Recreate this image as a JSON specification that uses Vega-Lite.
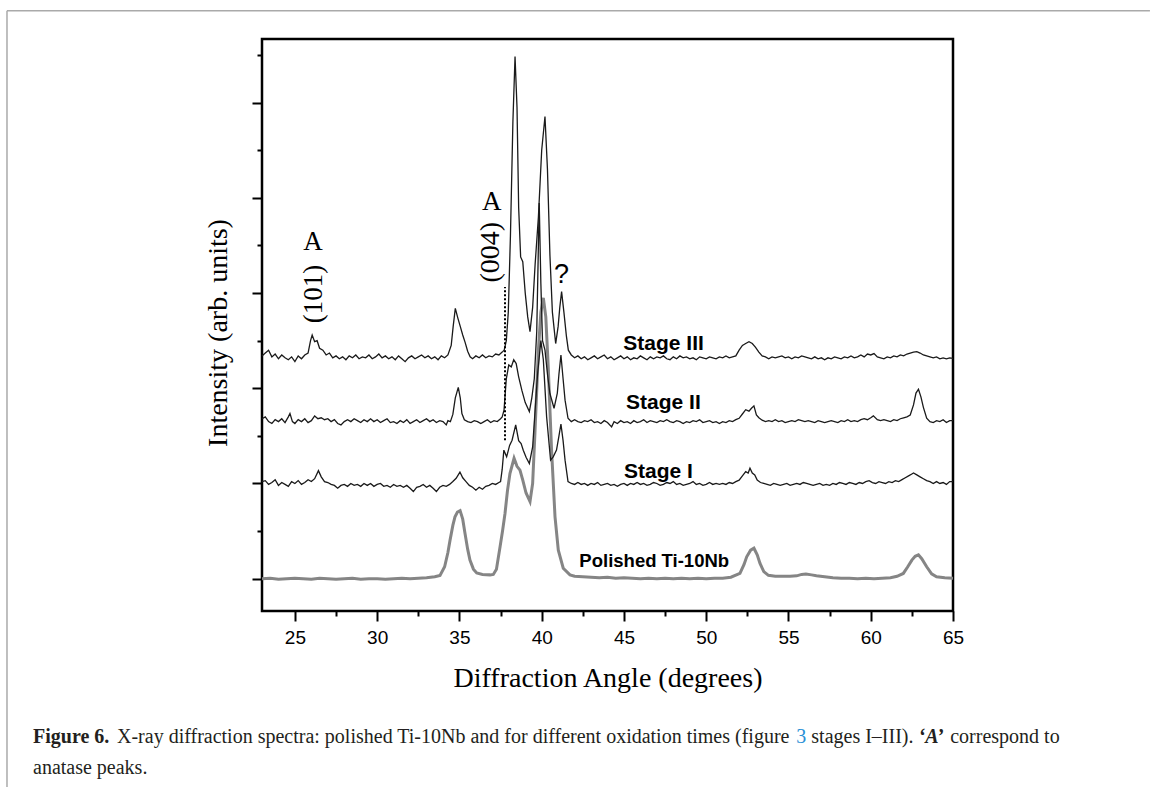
{
"$schema":"https://vega.github.io/schema/vega-lite/v6.json",
"width":691,"height":572,
"autosize":{"type":"none"},
"padding":{"left":262,"top":39,"right":197,"bottom":176},
"background":"#ffffff",
"config":{"view":{"stroke":"#000000","strokeWidth":2.5},
"axis":{"labelFont":"Liberation Sans","labelFontSize":19,"labelColor":"#000","tickColor":"#000","tickWidth":2,"domain":false,"grid":false,"titleFont":"Liberation Serif","titleFontSize":28,"titleFontWeight":"normal","titleColor":"#000"}},
"data":{"values":[{}]},
"datasets":{
"pol":[{"x":23.0,"y":0.0},{"x":23.5,"y":0.01},{"x":24.0,"y":-0.01},{"x":24.5,"y":0.0},{"x":25.0,"y":0.01},{"x":25.5,"y":0.0},{"x":26.0,"y":-0.01},{"x":26.5,"y":0.01},{"x":27.0,"y":0.0},{"x":27.5,"y":-0.01},{"x":28.0,"y":0.0},{"x":28.5,"y":0.01},{"x":29.0,"y":-0.01},{"x":29.5,"y":0.0},{"x":30.0,"y":0.0},{"x":30.5,"y":-0.01},{"x":31.0,"y":0.0},{"x":31.5,"y":0.01},{"x":32.0,"y":0.0},{"x":32.5,"y":0.01},{"x":33.0,"y":0.02},{"x":33.5,"y":0.04},{"x":33.82,"y":0.07},{"x":34.1,"y":0.25},{"x":34.3,"y":0.55},{"x":34.43,"y":0.81},{"x":34.6,"y":1.12},{"x":34.73,"y":1.3},{"x":34.88,"y":1.4},{"x":35.04,"y":1.43},{"x":35.2,"y":1.25},{"x":35.34,"y":0.95},{"x":35.5,"y":0.62},{"x":35.64,"y":0.39},{"x":35.85,"y":0.2},{"x":36.05,"y":0.12},{"x":36.4,"y":0.09},{"x":36.86,"y":0.08},{"x":37.06,"y":0.09},{"x":37.25,"y":0.2},{"x":37.47,"y":0.67},{"x":37.62,"y":1.0},{"x":37.77,"y":1.37},{"x":37.92,"y":1.85},{"x":38.07,"y":2.21},{"x":38.32,"y":2.53},{"x":38.5,"y":2.36},{"x":38.68,"y":2.28},{"x":38.85,"y":2.07},{"x":39.05,"y":1.8},{"x":39.29,"y":1.62},{"x":39.45,"y":2.0},{"x":39.59,"y":3.06},{"x":39.8,"y":4.8},{"x":39.95,"y":5.6},{"x":40.1,"y":5.9},{"x":40.25,"y":5.5},{"x":40.4,"y":4.43},{"x":40.6,"y":2.7},{"x":40.81,"y":1.3},{"x":41.01,"y":0.6},{"x":41.31,"y":0.22},{"x":41.72,"y":0.08},{"x":42.0,"y":0.05},{"x":42.5,"y":0.04},{"x":43.0,"y":0.03},{"x":43.5,"y":0.02},{"x":44.0,"y":0.03},{"x":44.5,"y":0.01},{"x":45.0,"y":0.02},{"x":45.5,"y":0.01},{"x":46.0,"y":0.0},{"x":46.5,"y":0.01},{"x":47.0,"y":0.0},{"x":47.5,"y":0.01},{"x":48.0,"y":0.0},{"x":48.5,"y":0.01},{"x":49.0,"y":0.0},{"x":49.5,"y":0.01},{"x":50.0,"y":0.0},{"x":50.5,"y":0.01},{"x":51.0,"y":0.01},{"x":51.5,"y":0.03},{"x":52.05,"y":0.11},{"x":52.3,"y":0.3},{"x":52.46,"y":0.46},{"x":52.7,"y":0.6},{"x":52.9,"y":0.64},{"x":53.1,"y":0.5},{"x":53.27,"y":0.32},{"x":53.5,"y":0.15},{"x":53.78,"y":0.07},{"x":54.2,"y":0.05},{"x":54.7,"y":0.05},{"x":55.1,"y":0.05},{"x":55.5,"y":0.06},{"x":55.8,"y":0.09},{"x":56.06,"y":0.1},{"x":56.4,"y":0.08},{"x":56.7,"y":0.06},{"x":57.2,"y":0.04},{"x":57.7,"y":0.02},{"x":58.2,"y":0.01},{"x":58.7,"y":0.01},{"x":59.2,"y":0.0},{"x":59.7,"y":0.01},{"x":60.2,"y":0.0},{"x":60.7,"y":0.01},{"x":61.2,"y":0.02},{"x":61.6,"y":0.05},{"x":61.98,"y":0.11},{"x":62.25,"y":0.25},{"x":62.5,"y":0.39},{"x":62.7,"y":0.47},{"x":62.9,"y":0.5},{"x":63.1,"y":0.42},{"x":63.4,"y":0.25},{"x":63.7,"y":0.1},{"x":64.0,"y":0.04},{"x":64.5,"y":0.02},{"x":65.0,"y":0.01}],
"s1":[{"x":23.0,"y":2.04},{"x":23.2,"y":2.06},{"x":23.4,"y":1.98},{"x":23.6,"y":2.02},{"x":23.8,"y":2.08},{"x":24.0,"y":1.96},{"x":24.2,"y":2.02},{"x":24.4,"y":1.98},{"x":24.6,"y":1.94},{"x":24.8,"y":2.04},{"x":25.0,"y":2.0},{"x":25.2,"y":2.06},{"x":25.4,"y":1.98},{"x":25.6,"y":2.02},{"x":25.8,"y":2.08},{"x":26.0,"y":2.04},{"x":26.2,"y":2.1},{"x":26.43,"y":2.27},{"x":26.6,"y":2.14},{"x":26.8,"y":2.04},{"x":27.0,"y":2.02},{"x":27.2,"y":1.98},{"x":27.4,"y":1.96},{"x":27.6,"y":1.9},{"x":27.8,"y":1.96},{"x":28.0,"y":1.98},{"x":28.2,"y":1.94},{"x":28.4,"y":2.0},{"x":28.6,"y":1.96},{"x":28.8,"y":1.98},{"x":29.0,"y":1.94},{"x":29.2,"y":2.0},{"x":29.4,"y":1.96},{"x":29.6,"y":2.0},{"x":29.8,"y":1.94},{"x":30.0,"y":1.98},{"x":30.2,"y":2.0},{"x":30.4,"y":1.94},{"x":30.6,"y":1.96},{"x":30.8,"y":1.92},{"x":31.0,"y":1.98},{"x":31.2,"y":1.94},{"x":31.4,"y":1.96},{"x":31.6,"y":1.92},{"x":31.8,"y":1.96},{"x":32.0,"y":1.9},{"x":32.2,"y":1.83},{"x":32.4,"y":1.92},{"x":32.6,"y":1.94},{"x":32.8,"y":1.98},{"x":33.0,"y":1.92},{"x":33.2,"y":1.96},{"x":33.4,"y":1.9},{"x":33.6,"y":1.83},{"x":33.8,"y":1.92},{"x":34.0,"y":1.96},{"x":34.2,"y":1.94},{"x":34.4,"y":1.98},{"x":34.6,"y":2.04},{"x":34.8,"y":2.11},{"x":35.03,"y":2.24},{"x":35.2,"y":2.12},{"x":35.4,"y":2.04},{"x":35.6,"y":1.96},{"x":35.8,"y":1.92},{"x":36.0,"y":1.86},{"x":36.2,"y":1.92},{"x":36.4,"y":1.88},{"x":36.6,"y":1.94},{"x":36.8,"y":1.96},{"x":37.0,"y":2.0},{"x":37.2,"y":1.98},{"x":37.4,"y":2.02},{"x":37.5,"y":2.04},{"x":37.6,"y":2.3},{"x":37.7,"y":2.7},{"x":37.87,"y":2.56},{"x":38.05,"y":2.8},{"x":38.2,"y":2.91},{"x":38.42,"y":3.23},{"x":38.6,"y":2.9},{"x":38.75,"y":2.84},{"x":38.88,"y":2.7},{"x":39.05,"y":2.55},{"x":39.25,"y":2.42},{"x":39.45,"y":2.77},{"x":39.6,"y":3.54},{"x":39.75,"y":4.3},{"x":39.95,"y":5.0},{"x":40.1,"y":4.6},{"x":40.3,"y":3.4},{"x":40.54,"y":2.49},{"x":40.7,"y":2.56},{"x":40.9,"y":2.7},{"x":41.05,"y":3.0},{"x":41.17,"y":3.25},{"x":41.3,"y":2.9},{"x":41.42,"y":2.49},{"x":41.6,"y":2.04},{"x":41.8,"y":2.0},{"x":42.0,"y":1.98},{"x":42.2,"y":2.02},{"x":42.4,"y":1.98},{"x":42.6,"y":2.0},{"x":42.8,"y":1.96},{"x":43.0,"y":2.0},{"x":43.2,"y":1.98},{"x":43.4,"y":2.02},{"x":43.6,"y":1.96},{"x":43.8,"y":1.98},{"x":44.0,"y":2.0},{"x":44.2,"y":1.96},{"x":44.4,"y":1.98},{"x":44.6,"y":1.94},{"x":44.8,"y":1.98},{"x":45.0,"y":2.0},{"x":45.2,"y":1.96},{"x":45.4,"y":2.0},{"x":45.6,"y":1.98},{"x":45.8,"y":2.02},{"x":46.0,"y":1.98},{"x":46.2,"y":2.0},{"x":46.4,"y":1.96},{"x":46.6,"y":1.98},{"x":46.8,"y":2.02},{"x":47.0,"y":2.0},{"x":47.2,"y":1.96},{"x":47.4,"y":1.98},{"x":47.6,"y":2.02},{"x":47.8,"y":2.0},{"x":48.0,"y":2.04},{"x":48.2,"y":1.98},{"x":48.4,"y":2.0},{"x":48.6,"y":1.96},{"x":48.8,"y":1.98},{"x":49.0,"y":2.0},{"x":49.2,"y":2.04},{"x":49.4,"y":1.98},{"x":49.6,"y":2.0},{"x":49.8,"y":1.96},{"x":50.0,"y":1.98},{"x":50.2,"y":2.02},{"x":50.4,"y":1.98},{"x":50.6,"y":2.0},{"x":50.8,"y":1.98},{"x":51.0,"y":2.0},{"x":51.2,"y":1.98},{"x":51.4,"y":2.02},{"x":51.6,"y":2.0},{"x":51.8,"y":2.04},{"x":52.0,"y":2.07},{"x":52.2,"y":2.16},{"x":52.4,"y":2.25},{"x":52.55,"y":2.22},{"x":52.66,"y":2.32},{"x":52.8,"y":2.22},{"x":52.95,"y":2.18},{"x":53.1,"y":2.07},{"x":53.3,"y":2.02},{"x":53.5,"y":2.0},{"x":53.7,"y":1.98},{"x":53.9,"y":1.96},{"x":54.1,"y":2.0},{"x":54.3,"y":1.98},{"x":54.5,"y":1.96},{"x":54.7,"y":1.98},{"x":54.9,"y":2.0},{"x":55.1,"y":1.96},{"x":55.3,"y":1.98},{"x":55.5,"y":2.0},{"x":55.7,"y":1.98},{"x":55.9,"y":2.02},{"x":56.1,"y":2.0},{"x":56.3,"y":1.98},{"x":56.5,"y":1.96},{"x":56.7,"y":1.98},{"x":56.9,"y":2.0},{"x":57.1,"y":1.96},{"x":57.3,"y":1.98},{"x":57.5,"y":1.96},{"x":57.7,"y":2.0},{"x":57.9,"y":1.98},{"x":58.1,"y":2.02},{"x":58.3,"y":2.0},{"x":58.5,"y":1.98},{"x":58.7,"y":2.02},{"x":58.9,"y":2.0},{"x":59.1,"y":1.98},{"x":59.3,"y":2.02},{"x":59.5,"y":2.0},{"x":59.7,"y":2.04},{"x":59.9,"y":2.06},{"x":60.1,"y":2.02},{"x":60.3,"y":2.0},{"x":60.5,"y":2.04},{"x":60.7,"y":2.02},{"x":60.9,"y":2.0},{"x":61.1,"y":2.04},{"x":61.3,"y":2.02},{"x":61.5,"y":2.06},{"x":61.7,"y":2.04},{"x":61.9,"y":2.08},{"x":62.1,"y":2.12},{"x":62.3,"y":2.16},{"x":62.5,"y":2.2},{"x":62.6,"y":2.22},{"x":62.8,"y":2.18},{"x":63.0,"y":2.14},{"x":63.2,"y":2.1},{"x":63.4,"y":2.06},{"x":63.6,"y":2.04},{"x":63.8,"y":2.0},{"x":64.0,"y":2.04},{"x":64.2,"y":2.0},{"x":64.4,"y":2.02},{"x":64.6,"y":1.98},{"x":64.8,"y":2.04},{"x":65.0,"y":2.04}],
"s2":[{"x":23.0,"y":3.36},{"x":23.2,"y":3.4},{"x":23.4,"y":3.3},{"x":23.6,"y":3.26},{"x":23.8,"y":3.34},{"x":24.0,"y":3.3},{"x":24.2,"y":3.36},{"x":24.4,"y":3.28},{"x":24.6,"y":3.4},{"x":24.7,"y":3.47},{"x":24.85,"y":3.3},{"x":25.0,"y":3.26},{"x":25.2,"y":3.34},{"x":25.4,"y":3.3},{"x":25.6,"y":3.36},{"x":25.8,"y":3.28},{"x":26.0,"y":3.32},{"x":26.2,"y":3.42},{"x":26.4,"y":3.36},{"x":26.6,"y":3.38},{"x":26.8,"y":3.34},{"x":27.0,"y":3.36},{"x":27.2,"y":3.3},{"x":27.4,"y":3.34},{"x":27.6,"y":3.26},{"x":27.8,"y":3.23},{"x":28.0,"y":3.3},{"x":28.2,"y":3.34},{"x":28.4,"y":3.3},{"x":28.6,"y":3.36},{"x":28.8,"y":3.32},{"x":29.0,"y":3.28},{"x":29.2,"y":3.34},{"x":29.4,"y":3.3},{"x":29.6,"y":3.36},{"x":29.8,"y":3.3},{"x":30.0,"y":3.34},{"x":30.2,"y":3.28},{"x":30.4,"y":3.32},{"x":30.6,"y":3.36},{"x":30.8,"y":3.28},{"x":31.0,"y":3.3},{"x":31.2,"y":3.26},{"x":31.4,"y":3.32},{"x":31.6,"y":3.28},{"x":31.8,"y":3.34},{"x":32.0,"y":3.26},{"x":32.2,"y":3.3},{"x":32.4,"y":3.34},{"x":32.6,"y":3.28},{"x":32.8,"y":3.32},{"x":33.0,"y":3.36},{"x":33.2,"y":3.3},{"x":33.4,"y":3.34},{"x":33.6,"y":3.28},{"x":33.8,"y":3.32},{"x":34.0,"y":3.3},{"x":34.2,"y":3.23},{"x":34.3,"y":3.32},{"x":34.45,"y":3.3},{"x":34.6,"y":3.45},{"x":34.75,"y":3.8},{"x":34.93,"y":4.02},{"x":35.05,"y":3.8},{"x":35.15,"y":3.47},{"x":35.3,"y":3.34},{"x":35.5,"y":3.3},{"x":35.7,"y":3.28},{"x":35.9,"y":3.32},{"x":36.1,"y":3.3},{"x":36.3,"y":3.26},{"x":36.5,"y":3.3},{"x":36.7,"y":3.34},{"x":36.9,"y":3.28},{"x":37.1,"y":3.32},{"x":37.3,"y":3.3},{"x":37.5,"y":3.36},{"x":37.6,"y":3.4},{"x":37.71,"y":3.54},{"x":37.85,"y":4.2},{"x":38.0,"y":4.49},{"x":38.15,"y":4.45},{"x":38.3,"y":4.6},{"x":38.45,"y":4.52},{"x":38.6,"y":4.24},{"x":38.8,"y":3.95},{"x":39.0,"y":3.7},{"x":39.25,"y":3.51},{"x":39.4,"y":3.8},{"x":39.55,"y":4.2},{"x":39.7,"y":5.2},{"x":39.85,"y":7.89},{"x":39.95,"y":6.2},{"x":40.05,"y":5.0},{"x":40.2,"y":4.8},{"x":40.35,"y":4.3},{"x":40.5,"y":3.89},{"x":40.75,"y":3.58},{"x":40.95,"y":3.9},{"x":41.05,"y":4.3},{"x":41.17,"y":4.7},{"x":41.3,"y":4.2},{"x":41.42,"y":3.75},{"x":41.6,"y":3.37},{"x":41.8,"y":3.3},{"x":42.0,"y":3.34},{"x":42.2,"y":3.3},{"x":42.4,"y":3.28},{"x":42.6,"y":3.32},{"x":42.8,"y":3.3},{"x":43.0,"y":3.34},{"x":43.2,"y":3.28},{"x":43.4,"y":3.3},{"x":43.6,"y":3.26},{"x":43.8,"y":3.32},{"x":44.0,"y":3.28},{"x":44.25,"y":3.19},{"x":44.4,"y":3.3},{"x":44.6,"y":3.26},{"x":44.8,"y":3.32},{"x":45.0,"y":3.28},{"x":45.2,"y":3.3},{"x":45.4,"y":3.26},{"x":45.6,"y":3.32},{"x":45.8,"y":3.28},{"x":46.0,"y":3.3},{"x":46.2,"y":3.34},{"x":46.4,"y":3.28},{"x":46.6,"y":3.32},{"x":46.8,"y":3.3},{"x":47.0,"y":3.28},{"x":47.2,"y":3.32},{"x":47.4,"y":3.3},{"x":47.6,"y":3.34},{"x":47.8,"y":3.3},{"x":48.0,"y":3.28},{"x":48.2,"y":3.32},{"x":48.4,"y":3.3},{"x":48.6,"y":3.26},{"x":48.8,"y":3.3},{"x":49.0,"y":3.28},{"x":49.2,"y":3.32},{"x":49.4,"y":3.3},{"x":49.6,"y":3.34},{"x":49.8,"y":3.28},{"x":50.0,"y":3.3},{"x":50.2,"y":3.32},{"x":50.4,"y":3.28},{"x":50.6,"y":3.3},{"x":50.8,"y":3.26},{"x":51.0,"y":3.3},{"x":51.2,"y":3.28},{"x":51.4,"y":3.32},{"x":51.6,"y":3.3},{"x":51.8,"y":3.34},{"x":52.0,"y":3.37},{"x":52.2,"y":3.46},{"x":52.4,"y":3.55},{"x":52.6,"y":3.52},{"x":52.75,"y":3.58},{"x":52.9,"y":3.63},{"x":53.05,"y":3.44},{"x":53.2,"y":3.38},{"x":53.4,"y":3.33},{"x":53.6,"y":3.3},{"x":53.8,"y":3.32},{"x":54.0,"y":3.3},{"x":54.2,"y":3.34},{"x":54.4,"y":3.3},{"x":54.6,"y":3.32},{"x":54.8,"y":3.28},{"x":55.0,"y":3.3},{"x":55.2,"y":3.32},{"x":55.4,"y":3.3},{"x":55.6,"y":3.34},{"x":55.8,"y":3.32},{"x":56.0,"y":3.3},{"x":56.2,"y":3.32},{"x":56.4,"y":3.3},{"x":56.6,"y":3.28},{"x":56.8,"y":3.32},{"x":57.0,"y":3.3},{"x":57.2,"y":3.28},{"x":57.4,"y":3.3},{"x":57.6,"y":3.32},{"x":57.8,"y":3.3},{"x":58.0,"y":3.28},{"x":58.2,"y":3.32},{"x":58.4,"y":3.3},{"x":58.6,"y":3.34},{"x":58.8,"y":3.3},{"x":59.0,"y":3.32},{"x":59.2,"y":3.3},{"x":59.4,"y":3.34},{"x":59.6,"y":3.36},{"x":59.8,"y":3.34},{"x":60.0,"y":3.38},{"x":60.16,"y":3.42},{"x":60.4,"y":3.34},{"x":60.6,"y":3.32},{"x":60.8,"y":3.34},{"x":61.0,"y":3.32},{"x":61.2,"y":3.3},{"x":61.4,"y":3.34},{"x":61.6,"y":3.32},{"x":61.8,"y":3.36},{"x":62.0,"y":3.38},{"x":62.2,"y":3.4},{"x":62.4,"y":3.44},{"x":62.6,"y":3.65},{"x":62.75,"y":3.9},{"x":62.9,"y":3.98},{"x":63.05,"y":3.82},{"x":63.2,"y":3.6},{"x":63.4,"y":3.37},{"x":63.6,"y":3.3},{"x":63.8,"y":3.28},{"x":64.0,"y":3.32},{"x":64.2,"y":3.3},{"x":64.4,"y":3.34},{"x":64.6,"y":3.28},{"x":64.8,"y":3.32},{"x":65.0,"y":3.32}],
"s3":[{"x":23.0,"y":4.68},{"x":23.2,"y":4.74},{"x":23.4,"y":4.8},{"x":23.6,"y":4.66},{"x":23.8,"y":4.72},{"x":24.0,"y":4.62},{"x":24.2,"y":4.7},{"x":24.4,"y":4.64},{"x":24.6,"y":4.6},{"x":24.8,"y":4.66},{"x":25.0,"y":4.56},{"x":25.2,"y":4.68},{"x":25.4,"y":4.62},{"x":25.6,"y":4.7},{"x":25.8,"y":4.74},{"x":25.95,"y":5.0},{"x":26.05,"y":5.12},{"x":26.2,"y":4.98},{"x":26.35,"y":5.0},{"x":26.5,"y":4.84},{"x":26.7,"y":4.8},{"x":26.9,"y":4.7},{"x":27.1,"y":4.74},{"x":27.3,"y":4.64},{"x":27.5,"y":4.68},{"x":27.7,"y":4.62},{"x":27.9,"y":4.66},{"x":28.1,"y":4.6},{"x":28.3,"y":4.68},{"x":28.5,"y":4.64},{"x":28.7,"y":4.7},{"x":28.9,"y":4.62},{"x":29.1,"y":4.66},{"x":29.3,"y":4.64},{"x":29.5,"y":4.7},{"x":29.7,"y":4.62},{"x":29.9,"y":4.66},{"x":30.1,"y":4.72},{"x":30.3,"y":4.64},{"x":30.5,"y":4.68},{"x":30.7,"y":4.62},{"x":30.9,"y":4.66},{"x":31.1,"y":4.6},{"x":31.3,"y":4.68},{"x":31.5,"y":4.62},{"x":31.7,"y":4.56},{"x":31.9,"y":4.64},{"x":32.1,"y":4.68},{"x":32.3,"y":4.62},{"x":32.5,"y":4.66},{"x":32.7,"y":4.7},{"x":32.9,"y":4.64},{"x":33.1,"y":4.68},{"x":33.3,"y":4.62},{"x":33.5,"y":4.66},{"x":33.7,"y":4.6},{"x":33.9,"y":4.68},{"x":34.1,"y":4.64},{"x":34.3,"y":4.7},{"x":34.5,"y":4.9},{"x":34.62,"y":5.3},{"x":34.75,"y":5.68},{"x":34.9,"y":5.48},{"x":35.05,"y":5.3},{"x":35.2,"y":5.12},{"x":35.35,"y":4.96},{"x":35.5,"y":4.78},{"x":35.65,"y":4.66},{"x":35.8,"y":4.62},{"x":36.0,"y":4.68},{"x":36.2,"y":4.64},{"x":36.4,"y":4.7},{"x":36.6,"y":4.64},{"x":36.8,"y":4.68},{"x":37.0,"y":4.66},{"x":37.2,"y":4.72},{"x":37.4,"y":4.7},{"x":37.6,"y":4.76},{"x":37.72,"y":4.8},{"x":37.85,"y":5.0},{"x":37.97,"y":5.6},{"x":38.1,"y":7.2},{"x":38.25,"y":9.6},{"x":38.38,"y":10.97},{"x":38.5,"y":9.9},{"x":38.6,"y":7.8},{"x":38.72,"y":6.76},{"x":38.85,"y":6.66},{"x":39.0,"y":6.0},{"x":39.15,"y":5.5},{"x":39.29,"y":5.19},{"x":39.45,"y":5.7},{"x":39.6,"y":6.6},{"x":39.8,"y":7.6},{"x":40.0,"y":9.0},{"x":40.2,"y":9.71},{"x":40.35,"y":8.6},{"x":40.5,"y":6.8},{"x":40.65,"y":5.6},{"x":40.85,"y":4.94},{"x":41.0,"y":5.3},{"x":41.1,"y":5.7},{"x":41.21,"y":6.03},{"x":41.35,"y":5.6},{"x":41.5,"y":5.1},{"x":41.62,"y":4.8},{"x":41.8,"y":4.7},{"x":42.0,"y":4.64},{"x":42.2,"y":4.68},{"x":42.4,"y":4.62},{"x":42.6,"y":4.66},{"x":42.8,"y":4.6},{"x":43.0,"y":4.64},{"x":43.2,"y":4.68},{"x":43.4,"y":4.62},{"x":43.6,"y":4.66},{"x":43.8,"y":4.7},{"x":44.0,"y":4.62},{"x":44.2,"y":4.66},{"x":44.4,"y":4.6},{"x":44.6,"y":4.64},{"x":44.8,"y":4.68},{"x":45.0,"y":4.62},{"x":45.2,"y":4.66},{"x":45.4,"y":4.6},{"x":45.6,"y":4.64},{"x":45.8,"y":4.62},{"x":46.0,"y":4.68},{"x":46.2,"y":4.64},{"x":46.4,"y":4.6},{"x":46.6,"y":4.66},{"x":46.8,"y":4.62},{"x":47.0,"y":4.66},{"x":47.2,"y":4.64},{"x":47.4,"y":4.68},{"x":47.6,"y":4.62},{"x":47.8,"y":4.6},{"x":48.0,"y":4.66},{"x":48.2,"y":4.62},{"x":48.4,"y":4.68},{"x":48.6,"y":4.64},{"x":48.8,"y":4.66},{"x":49.0,"y":4.62},{"x":49.2,"y":4.64},{"x":49.4,"y":4.6},{"x":49.6,"y":4.66},{"x":49.8,"y":4.64},{"x":50.0,"y":4.62},{"x":50.2,"y":4.66},{"x":50.4,"y":4.64},{"x":50.6,"y":4.62},{"x":50.8,"y":4.66},{"x":51.0,"y":4.64},{"x":51.2,"y":4.68},{"x":51.4,"y":4.64},{"x":51.6,"y":4.66},{"x":51.8,"y":4.68},{"x":52.0,"y":4.8},{"x":52.2,"y":4.9},{"x":52.4,"y":4.94},{"x":52.6,"y":4.98},{"x":52.8,"y":4.94},{"x":53.0,"y":4.86},{"x":53.2,"y":4.76},{"x":53.4,"y":4.68},{"x":53.6,"y":4.66},{"x":53.8,"y":4.62},{"x":54.0,"y":4.66},{"x":54.2,"y":4.64},{"x":54.4,"y":4.66},{"x":54.6,"y":4.68},{"x":54.8,"y":4.64},{"x":55.0,"y":4.66},{"x":55.2,"y":4.62},{"x":55.4,"y":4.66},{"x":55.6,"y":4.64},{"x":55.8,"y":4.68},{"x":56.0,"y":4.66},{"x":56.2,"y":4.64},{"x":56.4,"y":4.62},{"x":56.6,"y":4.66},{"x":56.8,"y":4.62},{"x":57.0,"y":4.64},{"x":57.2,"y":4.6},{"x":57.4,"y":4.64},{"x":57.6,"y":4.62},{"x":57.8,"y":4.66},{"x":58.0,"y":4.64},{"x":58.2,"y":4.62},{"x":58.4,"y":4.66},{"x":58.6,"y":4.64},{"x":58.8,"y":4.68},{"x":59.0,"y":4.64},{"x":59.2,"y":4.66},{"x":59.4,"y":4.7},{"x":59.6,"y":4.66},{"x":59.8,"y":4.72},{"x":60.0,"y":4.7},{"x":60.2,"y":4.73},{"x":60.4,"y":4.66},{"x":60.6,"y":4.64},{"x":60.8,"y":4.62},{"x":61.0,"y":4.66},{"x":61.2,"y":4.64},{"x":61.4,"y":4.68},{"x":61.6,"y":4.66},{"x":61.8,"y":4.7},{"x":62.0,"y":4.68},{"x":62.2,"y":4.72},{"x":62.4,"y":4.74},{"x":62.6,"y":4.76},{"x":62.8,"y":4.77},{"x":63.0,"y":4.74},{"x":63.2,"y":4.7},{"x":63.4,"y":4.68},{"x":63.6,"y":4.66},{"x":63.8,"y":4.64},{"x":64.0,"y":4.66},{"x":64.2,"y":4.62},{"x":64.4,"y":4.64},{"x":64.6,"y":4.62},{"x":64.8,"y":4.64},{"x":65.0,"y":4.63}]
},
"layer":[
{"data":{"name":"pol"},"mark":{"type":"line","color":"#858585","strokeWidth":3},
 "encoding":{
  "x":{"field":"x","type":"quantitative","scale":{"domain":[23,65],"nice":false,"zero":false},
   "axis":{"values":[25,30,35,40,45,50,55,60,65],"tickSize":10,"labelPadding":22,"labelBaseline":"alphabetic","labelFlush":false,"format":"d","title":"Diffraction Angle (degrees)","titleBaseline":"alphabetic","titleY":75}},
  "y":{"field":"y","type":"quantitative","scale":{"domain":[-0.679,11.338],"nice":false,"zero":false},
   "axis":{"values":[0,2,4,6,8,10],"tickSize":10,"labels":false,"title":"Intensity (arb. units)","titleAngle":270,"titleBaseline":"alphabetic","titleX":-36,"titleY":293.5}}}},
{"data":{"name":"s1"},"mark":{"type":"line","color":"#1a1a1a","strokeWidth":1.3},
 "encoding":{
  "x":{"field":"x","type":"quantitative","axis":{"orient":"bottom","values":[27.5,32.5,37.5,42.5,47.5,52.5,57.5,62.5],"tickSize":5,"labels":false,"title":null}},
  "y":{"field":"y","type":"quantitative","axis":{"orient":"left","values":[1,3,5,7,9,11],"tickSize":5,"labels":false,"title":null}}}},
{"data":{"name":"s2"},"mark":{"type":"line","color":"#1a1a1a","strokeWidth":1.3},
 "encoding":{"x":{"field":"x","type":"quantitative","axis":null},"y":{"field":"y","type":"quantitative","axis":null}}},
{"data":{"name":"s3"},"mark":{"type":"line","color":"#1a1a1a","strokeWidth":1.3},
 "encoding":{"x":{"field":"x","type":"quantitative","axis":null},"y":{"field":"y","type":"quantitative","axis":null}}},
{"mark":{"type":"rule","color":"#000","strokeWidth":2,"strokeDash":[2,2]},
 "encoding":{"x":{"datum":37.77,"type":"quantitative","axis":null},"y":{"datum":2.91,"type":"quantitative","axis":null},"y2":{"datum":6.13}}},
{"mark":{"type":"text","text":"Stage III","font":"Liberation Sans","fontWeight":"bold","fontSize":21,"align":"left","baseline":"alphabetic","color":"#000"},
 "encoding":{"x":{"datum":44.96,"type":"quantitative","axis":null},"y":{"datum":4.8,"type":"quantitative","axis":null}}},
{"mark":{"type":"text","text":"Stage II","font":"Liberation Sans","fontWeight":"bold","fontSize":21,"align":"left","baseline":"alphabetic","color":"#000"},
 "encoding":{"x":{"datum":45.13,"type":"quantitative","axis":null},"y":{"datum":3.56,"type":"quantitative","axis":null}}},
{"mark":{"type":"text","text":"Stage I","font":"Liberation Sans","fontWeight":"bold","fontSize":21,"align":"left","baseline":"alphabetic","color":"#000"},
 "encoding":{"x":{"datum":45.0,"type":"quantitative","axis":null},"y":{"datum":2.11,"type":"quantitative","axis":null}}},
{"mark":{"type":"text","text":"Polished Ti-10Nb","font":"Liberation Sans","fontWeight":"bold","fontSize":18.5,"align":"left","baseline":"alphabetic","color":"#000"},
 "encoding":{"x":{"datum":42.29,"type":"quantitative","axis":null},"y":{"datum":0.25,"type":"quantitative","axis":null}}},
{"mark":{"type":"text","text":"A","font":"Liberation Serif","fontSize":27,"align":"center","baseline":"alphabetic","color":"#000"},
 "encoding":{"x":{"datum":26.1,"type":"quantitative","axis":null},"y":{"datum":6.91,"type":"quantitative","axis":null}}},
{"mark":{"type":"text","text":"(101)","font":"Liberation Serif","fontSize":27,"align":"center","baseline":"middle","angle":270,"color":"#000"},
 "encoding":{"x":{"datum":26.16,"type":"quantitative","axis":null},"y":{"datum":5.98,"type":"quantitative","axis":null}}},
{"mark":{"type":"text","text":"A","font":"Liberation Serif","fontSize":27,"align":"center","baseline":"alphabetic","color":"#000"},
 "encoding":{"x":{"datum":36.96,"type":"quantitative","axis":null},"y":{"datum":7.75,"type":"quantitative","axis":null}}},
{"mark":{"type":"text","text":"(004)","font":"Liberation Serif","fontSize":28,"align":"center","baseline":"middle","angle":270,"color":"#000"},
 "encoding":{"x":{"datum":36.92,"type":"quantitative","axis":null},"y":{"datum":6.86,"type":"quantitative","axis":null}}},
{"mark":{"type":"text","text":"?","font":"Liberation Sans","fontSize":27,"align":"center","baseline":"alphabetic","color":"#000"},
 "encoding":{"x":{"datum":41.2,"type":"quantitative","axis":null},"y":{"datum":6.21,"type":"quantitative","axis":null}}},
{"mark":{"type":"rule","color":"#aaaaaa","strokeWidth":1.5},
 "encoding":{"x":{"datum":7.5,"type":"quantitative","axis":null},"x2":{"datum":76.97},"y":{"datum":11.93,"type":"quantitative","axis":null}}},
{"mark":{"type":"rule","color":"#aaaaaa","strokeWidth":1.5},
 "encoding":{"x":{"datum":7.5,"type":"quantitative","axis":null},"y":{"datum":11.93,"type":"quantitative","axis":null},"y2":{"datum":-4.38}}},
{"mark":{"type":"text","text":"Figure 6.","font":"Liberation Serif","fontSize":20,"fontWeight":"bold","align":"left","baseline":"alphabetic","color":"#231f20"},
 "encoding":{"x":{"datum":9.081,"type":"quantitative","axis":null},"y":{"datum":-3.45,"type":"quantitative","axis":null}}},
{"mark":{"type":"text","text":"X-ray diffraction spectra: polished Ti-10Nb and for different oxidation times (figure","font":"Liberation Serif","fontSize":20,"align":"left","baseline":"alphabetic","color":"#231f20"},
 "encoding":{"x":{"datum":14.186,"type":"quantitative","axis":null},"y":{"datum":-3.45,"type":"quantitative","axis":null}}},
{"mark":{"type":"text","text":"3","font":"Liberation Serif","fontSize":20,"align":"left","baseline":"alphabetic","color":"#2a8fd6"},
 "encoding":{"x":{"datum":55.476,"type":"quantitative","axis":null},"y":{"datum":-3.45,"type":"quantitative","axis":null}}},
{"mark":{"type":"text","text":"stages I–III).","font":"Liberation Serif","fontSize":20,"align":"left","baseline":"alphabetic","color":"#231f20"},
 "encoding":{"x":{"datum":56.388,"type":"quantitative","axis":null},"y":{"datum":-3.45,"type":"quantitative","axis":null}}},
{"mark":{"type":"text","text":"‘A’","font":"Liberation Serif","fontSize":20,"fontWeight":"bold","fontStyle":"italic","align":"left","baseline":"alphabetic","color":"#231f20"},
 "encoding":{"x":{"datum":62.904,"type":"quantitative","axis":null},"y":{"datum":-3.45,"type":"quantitative","axis":null}}},
{"mark":{"type":"text","text":"correspond to","font":"Liberation Serif","fontSize":20,"align":"left","baseline":"alphabetic","color":"#231f20"},
 "encoding":{"x":{"datum":64.831,"type":"quantitative","axis":null},"y":{"datum":-3.45,"type":"quantitative","axis":null}}},
{"mark":{"type":"text","text":"anatase peaks.","font":"Liberation Serif","fontSize":20,"align":"left","baseline":"alphabetic","color":"#231f20"},
 "encoding":{"x":{"datum":9.081,"type":"quantitative","axis":null},"y":{"datum":-4.1,"type":"quantitative","axis":null}}}
],
"resolve":{"axis":{"x":"independent","y":"independent"}}
}
